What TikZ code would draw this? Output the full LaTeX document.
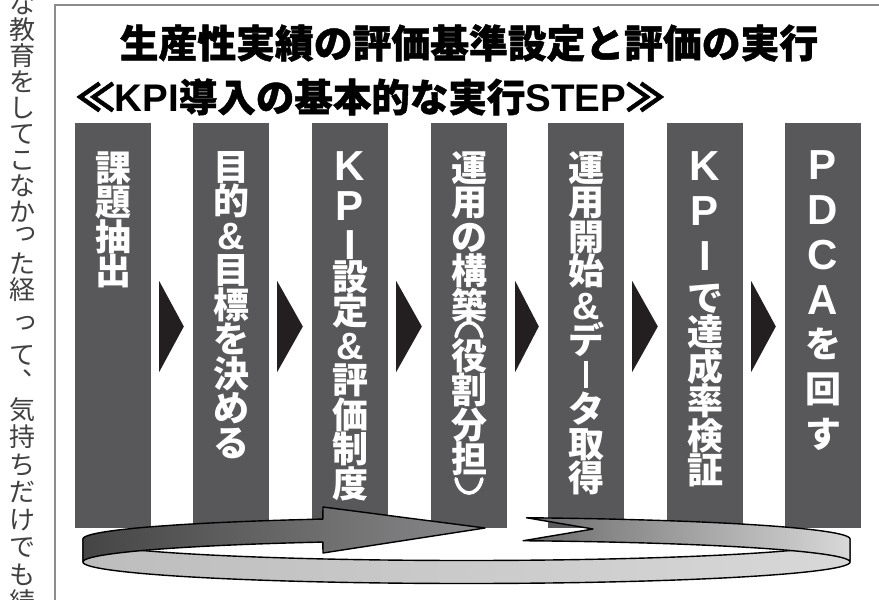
\documentclass[tikz,border=0pt]{standalone}
\usepackage{fontspec}
\usetikzlibrary{calc}
\newfontfamily\jph{Noto Sans CJK JP}
\newfontfamily\jpt{Noto Sans CJK JP}[BoldFeatures={FakeBold=1.2}]
\newfontfamily\jpv{Noto Sans CJK JP}
\newfontfamily\latf{Liberation Sans}
\definecolor{barc}{HTML}{58585A}
\definecolor{tric}{HTML}{231F20}
\definecolor{framec}{HTML}{8C8C8C}
\definecolor{sidec}{HTML}{404040}
\definecolor{ringA}{HTML}{454545}
\definecolor{ringB}{HTML}{8A8A8C}
\definecolor{ringC}{HTML}{6A6A6A}
\definecolor{ringD}{HTML}{CDCDCD}
\definecolor{ringE}{HTML}{D8D8D8}
\definecolor{ringF}{HTML}{BDBDBD}
\definecolor{ringG}{HTML}{F6F6F6}
\newcommand\barfont{\jpv\bfseries\fontsize{36}{34.5}\selectfont\lineskiplimit=-100pt\lineskip=0pt}
\newcommand\sidefont{\jpv\fontsize{26}{26}\selectfont\lineskiplimit=-100pt\lineskip=0pt}
\newcommand\lt[1]{{\latf\bfseries\fontsize{42}{34.5}\selectfont #1}}
\newcommand\amp{{\latf\bfseries\fontsize{38}{34.5}\selectfont\&}}
% the long vowel mark as set in vertical text
\newcommand\vbar{\rule{4.6pt}{27pt}}
% small kana and comma moved as in vertical setting
\newcommand\vsmall[1]{\makebox[1em][l]{\hspace{0.12em}\raisebox{0.28em}{#1}}}
\newcommand\vcomma{\makebox[1em][l]{\hspace{0.5em}\raisebox{0.6em}{、}}}
\newcommand\fs{\rule{0pt}{0.88em}}
\def\cx{466.5}
\def\rx{383.5}
\def\ry{21.5}
\def\cya{539}
\def\cyb{562}
\begin{document}
\begin{tikzpicture}[x=1pt,y=-1pt,
  bar/.style={fill=barc, minimum width=76pt, minimum height=405pt, inner sep=0pt, draw=none},
  bartext/.style={text=white, align=center, anchor=north, inner sep=0pt, font=\barfont},
  parline/.style={draw=white, line width=3.6pt, line cap=round},
  tri/.style={fill=tric, draw=none},
  ringline/.style={draw=black, line width=1.4pt, line join=round},
  sidetext/.style={text=sidec, align=center, anchor=north, inner sep=0pt},
  frameline/.style={draw=framec, line width=2pt}
]
\useasboundingbox (0,0) rectangle (879,600);

% side column of neighbouring text
\node[sidetext, font={\sidefont}] (s1) at (22.5,-9.5)
  {\fs な\\教\\育\\を\\し\\て\\こ\\な\\か\\\vsmall{っ}\\た\\経};
\node[sidetext, font={\sidefont\fontsize{26}{27.5}\selectfont}] (s2) at (22.5,313.5)
  {\fs\vsmall{っ}\\て\\\vcomma\\気\\持\\ち\\だ\\け\\で\\も\\続\\け};

% frame
\draw[frameline] (55,600) -- (55,5) -- (879,5);

% titles
\node[inner sep=0pt, font={\jpt\bfseries\fontsize{38.8}{40}\selectfont}] (title) at (469,43)
  {生産性実績の評価基準設定と評価の実行};
\node[inner sep=0pt, anchor=west, font={\jpt\bfseries\fontsize{38.5}{40}\selectfont}] (sub) at (76,97)
  {≪{\latf\bfseries KPI}導入の基本的な実行{\latf\bfseries STEP}≫};

% bars
\foreach \i/\x in {1/113,2/231,3/350,4/469,5/586,6/705,7/823}
  \node[bar] (b\i) at (\x,325.5) {};

% triangles
\foreach \i/\j in {1/2,2/3,3/4,4/5,5/6,6/7}
  \fill[tri] ($(b\i.east)+(8,-44.5)$) -- ($(b\j.west)+(-9,1)$) -- ($(b\i.east)+(8,46.5)$) -- cycle;

% bar texts
\node[bartext] (t1) at ($(b1.north)+(0,28.5)$) {課\\題\\抽\\出};
\node[bartext] (t2) at ($(b2.north)+(0,28.5)$) {目\\的\\\amp\\目\\標\\を\\決\\め\\る};
\node[bartext] (t3) at ($(b3.north)+(0,29)$)
  {\lt{K}\\[5pt]\lt{P}\\[5pt]\lt{I}\\[-4pt]設\\定\\\amp\\評\\価\\制\\度};
\node[bartext] (t4) at ($(b4.north)+(0,28.5)$)
  {運\\用\\の\\構\\築\\[-19pt]\\役\\割\\分\\担};
% vertical-form brackets of bar 4
\coordinate (p1) at ($(b4.north)+(0,207)$);
\coordinate (p2) at ($(b4.north)+(0,363)$);
\draw[parline] ($(p1)+(-13,7)$) .. controls ($(p1)+(-9,-12)$) and ($(p1)+(9,-12)$) .. ($(p1)+(13,7)$);
\draw[parline] ($(p2)+(-13,-7)$) .. controls ($(p2)+(-9,12)$) and ($(p2)+(9,12)$) .. ($(p2)+(13,-7)$);
\node[bartext] (t5) at ($(b5.north)+(0,28.5)$) {運\\用\\開\\始\\\amp\\デ\\\vbar\\タ\\取\\得};
\node[bartext] (t6) at ($(b6.north)+(0,29)$)
  {\lt{K}\\[10.5pt]\lt{P}\\[10.5pt]\lt{I}\\[6pt]で\\達\\成\\率\\検\\証};
\node[bartext] (t7) at ($(b7.north)+(0,28)$)
  {\lt{P}\\[10.5pt]\lt{D}\\[10.5pt]\lt{C}\\[10.5pt]\lt{A}\\[8pt]を\\[10.5pt]回\\[10.5pt]す};

% ring: front band
\shadedraw[ringline, left color=ringF, middle color=ringG, right color=ringE]
  plot[domain=180:360, samples=90] ({\cx+\rx*cos(\x)},{\cya-\ry*sin(\x)})
  -- plot[domain=360:180, samples=90] ({\cx+\rx*cos(\x)},{\cyb-\ry*sin(\x)}) -- cycle;
% ring: back band right part with notch
\shadedraw[ringline, left color=ringC, middle color=ringD, right color=ringE]
  plot[domain=81:0, samples=50] ({\cx+\rx*cos(\x)},{\cya-\ry*sin(\x)})
  -- plot[domain=0:81.5, samples=50] ({\cx+\rx*cos(\x)},{\cyb-\ry*sin(\x)})
  -- (593,529) -- cycle;
% ring: back band left part ending in the arrow head
\shadedraw[ringline, left color=ringA, right color=ringB]
  plot[domain=180:112, samples=50] ({\cx+\rx*cos(\x)},{\cya-\ry*sin(\x)})
  -- (323,507) -- (485,528) -- (323,553)
  -- plot[domain=112:180, samples=50] ({\cx+\rx*cos(\x)},{\cyb-\ry*sin(\x)}) -- cycle;
\end{tikzpicture}
\end{document}
